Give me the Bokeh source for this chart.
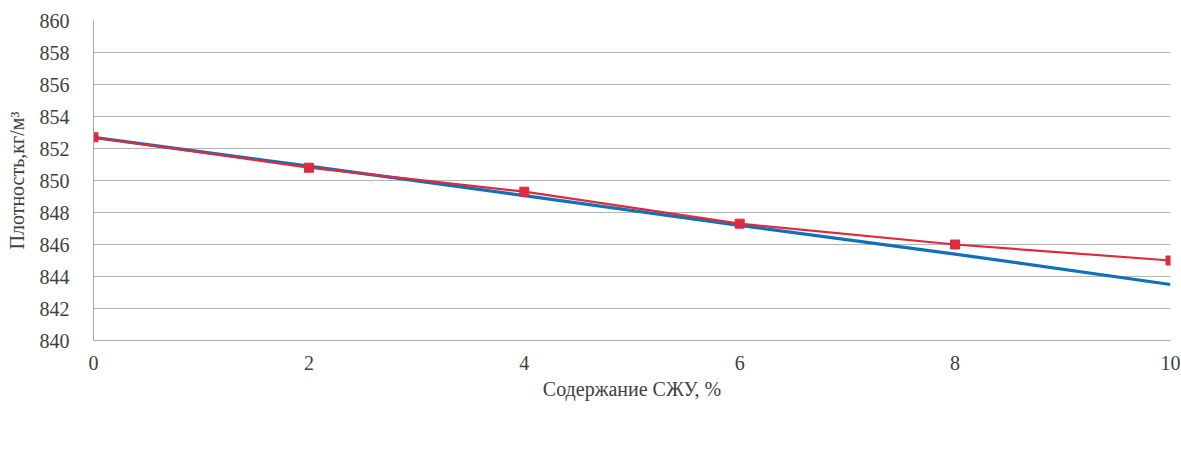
from bokeh.plotting import figure
from bokeh.models import Legend, LegendItem, FixedTicker, Range1d, ColumnDataSource, CDSView, IndexFilter
from bokeh.embed import file_html
from bokeh.resources import INLINE

x_vals = [0, 2, 4, 6, 8, 10]
calc_vals = [852.7, 850.9, 849.05, 847.2, 845.4, 843.5]
exp_vals = [852.7, 850.8, 849.3, 847.3, 846.0, 845.0]
y_ticks = [840, 842, 844, 846, 848, 850, 852, 854, 856, 858, 860]
x_ticks = [0, 2, 4, 6, 8, 10]
x_label = "Содержание СЖУ, %"
y_label = "Плотность,кг/м³"
series_names = ["10 °C Расчёт", "10 °C Эксперимент"]

FONT = "Liberation Serif"
TXT = "#404040"
BLUE = "#0F72B8"
RED = "#DC2A3E"
FS = "20px"

p = figure(frame_width=1077, frame_height=320, output_backend="svg", toolbar_location=None,
           x_range=Range1d(0, 10), y_range=Range1d(840, 860),
           min_border_left=93, min_border_right=11, min_border_top=20, min_border_bottom=0)
p.outline_line_color = None

calc_src = ColumnDataSource(dict(x=x_vals, y=calc_vals))
exp_src = ColumnDataSource(dict(x=x_vals, y=exp_vals))

r_blue = p.line("x", "y", source=calc_src, line_color=BLUE, line_width=3.2)
r_blue_m = p.scatter("x", "y", source=calc_src, view=CDSView(filter=IndexFilter([])),
                     marker="diamond", size=11, fill_color=BLUE, line_color=BLUE)
r_red = p.line("x", "y", source=exp_src, line_color=RED, line_width=2.2)
r_red_m = p.scatter("x", "y", source=exp_src, marker="square", size=9,
                    fill_color=RED, line_color=RED)

for ax in (p.xaxis[0], p.yaxis[0]):
    ax.axis_line_color = "#A6A6A6"
    ax.major_tick_line_color = None
    ax.minor_tick_line_color = None
    ax.major_label_text_font = FONT
    ax.major_label_text_font_size = FS
    ax.major_label_text_color = TXT
    ax.axis_label_text_font = FONT
    ax.axis_label_text_font_size = FS
    ax.axis_label_text_font_style = "normal"
    ax.axis_label_text_color = TXT

p.xaxis.ticker = FixedTicker(ticks=x_ticks)
p.yaxis.ticker = FixedTicker(ticks=y_ticks)
p.xaxis.axis_label = x_label
p.yaxis.axis_label = y_label
p.xaxis.major_label_standoff = 9
p.xaxis.axis_label_standoff = 5
p.yaxis.major_label_standoff = 18
p.yaxis.axis_label_standoff = 9

p.xgrid.grid_line_color = None
p.ygrid.grid_line_color = "#B4B4B4"
p.ygrid.grid_line_width = 1

legend = Legend(items=[LegendItem(label=series_names[0], renderers=[r_blue, r_blue_m]),
                       LegendItem(label=series_names[1], renderers=[r_red, r_red_m])],
                orientation="horizontal", location="center",
                label_text_font=FONT, label_text_font_size=FS, label_text_color=TXT,
                glyph_width=38, glyph_height=20, spacing=30, padding=0, margin=0,
                label_standoff=4,
                border_line_color=None, background_fill_alpha=0)
p.add_layout(legend, "below")

open("out.html", "w").write(file_html(p, INLINE))
